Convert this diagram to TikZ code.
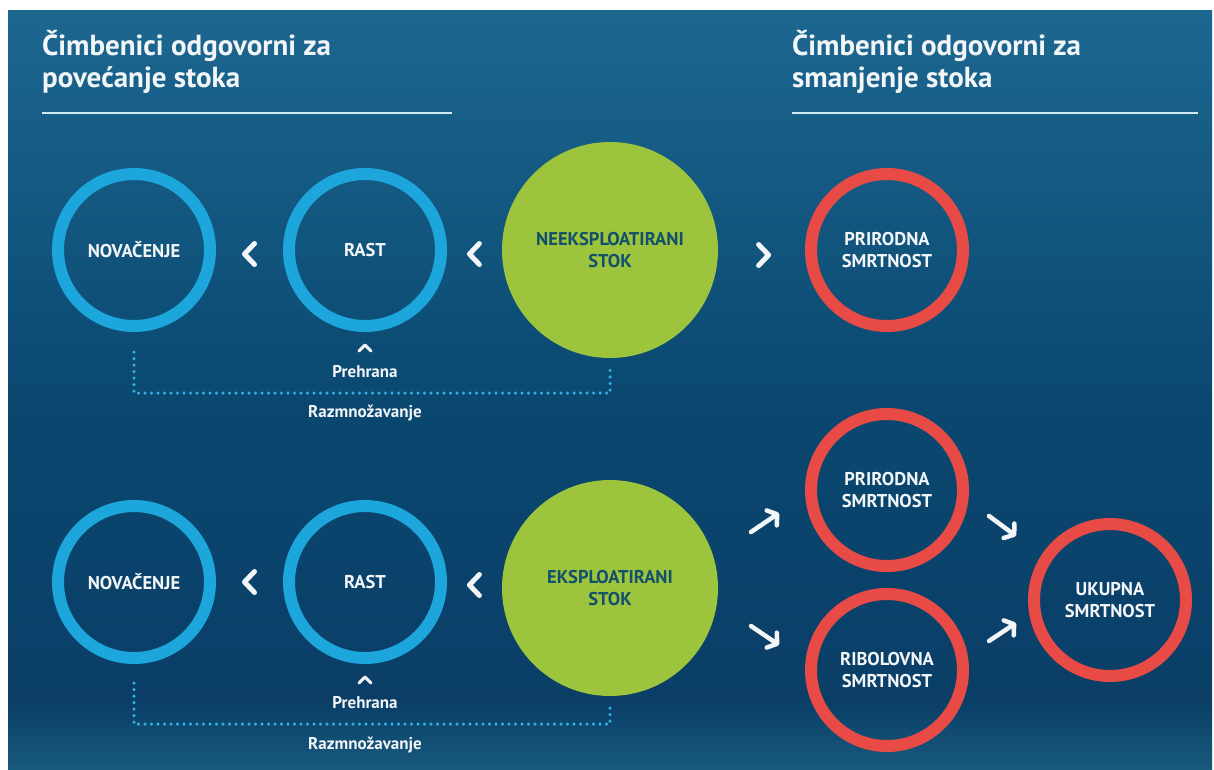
\documentclass[tikz,border=0pt]{standalone}
\usepackage{fontspec}
\setmainfont{PT Sans}
\usetikzlibrary{calc}
\usetikzlibrary{positioning}
\usetikzlibrary{arrows.meta}

\definecolor{bgtop}{HTML}{1C6790}
\definecolor{bgmid}{HTML}{0A4870}
\definecolor{bgdeep}{HTML}{0A3E67}
\definecolor{bgbot}{HTML}{18597E}
\definecolor{ringblue}{HTML}{1DA6DC}
\definecolor{ringred}{HTML}{E84B45}
\definecolor{stockgreen}{HTML}{9CC43C}
\definecolor{stocktext}{HTML}{12506C}
\definecolor{labwhite}{HTML}{F3F6F8}
\definecolor{dotblue}{HTML}{33AEE2}

\tikzset{
  ring/.style={circle, draw=#1, line width=12pt, minimum size=152pt, inner sep=0pt,
    text=labwhite, align=center, font=\bfseries\fontsize{18.5}{22}\selectfont},
  stock/.style={circle, fill=stockgreen, minimum size=216pt, inner sep=0pt,
    text=stocktext, align=center, font=\bfseries\fontsize{18.5}{22}\selectfont},
  title/.style={anchor=base west, inner sep=0pt, text=labwhite,
    font=\bfseries\fontsize{29}{32}\selectfont},
  small/.style={inner sep=0pt, text=labwhite, font=\bfseries\fontsize{17}{18}\selectfont},
  chev/.style={draw=labwhite, line width=5pt, line cap=round, line join=round},
  caret/.style={draw=labwhite, line width=3pt, line cap=round, line join=round},
  warrow/.style={draw=labwhite, line width=4.5pt, line cap=round,
    -{Straight Barb[length=6.5pt, width=18pt, line cap=round, line join=round]}},
  dotline/.style={draw=dotblue, line width=3.5pt, line cap=round, dash pattern=on 0pt off 6.5pt},
  rule/.style={draw=labwhite!85!ringblue, line width=1.5pt}
}

\begin{document}
\begin{tikzpicture}[x=1pt, y=-1pt]
\useasboundingbox (0,0) rectangle (1214,769);

% background
\fill[white] (0,0) rectangle (1214,769);
\shade[top color=bgtop, bottom color=bgmid] (8,10) rectangle (1212,400);
\shade[top color=bgmid, bottom color=bgdeep] (8,400) rectangle (1212,700);
\shade[top color=bgdeep, bottom color=bgbot] (8,700) rectangle (1212,769);

% titles
\node[title] (ttlLa) at (42,55) {Čimbenici odgovorni za};
\node[title] (ttlLb) at (42,87) {povećanje stoka};
\node[title] (ttlRa) at (792,55) {Čimbenici odgovorni za};
\node[title] (ttlRb) at (792,87) {smanjenje stoka};
\draw[rule] (42,113) -- (452,113);
\draw[rule] (792,113) -- (1198,113);

% unexploited stock
\node[ring=ringblue] (nov1) at (134,250) {NOVAČENJE};
\node[ring=ringblue] (rast1) at (365,250) {RAST};
\node[stock] (neks) at (610,250) {NEEKSPLOATIRANI\\STOK};
\node[ring=ringred] (prir1) at (887,250) {PRIRODNA\\SMRTNOST};

\draw[chev] ($(nov1.east)!0.5!(rast1.west)+(0,4)$) ++(5,-10.5) -- ++(-10,10.5) -- ++(10,10.5);
\draw[chev] ($(rast1.east)!0.5!(neks.west)+(0,4)$) ++(5,-10.5) -- ++(-10,10.5) -- ++(10,10.5);
\draw[chev] ($(neks.east)!0.5!(prir1.west)+(2,5)$) ++(-5,-10.5) -- ++(10,10.5) -- ++(-10,10.5);

\node[small] (car1) at (365,348) {};
\draw[caret] (car1) ++(-6,3) -- ++(6,-6) -- ++(6,6);
\node[small] (preh1) at (365,372) {Prehrana};
\node[small] (razm1) at (365,413) {Razmnožavanje};
\draw[dotline] ([yshift=-20pt]nov1.south) -- ++(0,41) -| ([yshift=-10pt]neks.south);

% exploited stock
\node[ring=ringblue] (nov2) at (134,582) {NOVAČENJE};
\node[ring=ringblue] (rast2) at (365,582) {RAST};
\node[stock] (eks) at (610,588) {EKSPLOATIRANI\\STOK};
\node[ring=ringred] (prir2) at (887,490) {PRIRODNA\\SMRTNOST};
\node[ring=ringred] (ribo) at (887,670) {RIBOLOVNA\\SMRTNOST};
\node[ring=ringred] (ukup) at (1110,600) {UKUPNA\\SMRTNOST};

\draw[chev] ($(nov2.east)!0.5!(rast2.west)+(0,0)$) ++(5,-10.5) -- ++(-10,10.5) -- ++(10,10.5);
\draw[chev] ($(rast2.east)!0.5!(eks.west)+(0,0)$) ++(5,-10.5) -- ++(-10,10.5) -- ++(10,10.5);

\node[small] (car2) at (365,680) {};
\draw[caret] (car2) ++(-6,3) -- ++(6,-6) -- ++(6,6);
\node[small] (preh2) at (365,703) {Prehrana};
\node[small] (razm2) at (365,745) {Razmnožavanje};
\draw[dotline] ([yshift=-19pt]nov2.south) -- ++(0,41) -| ([yshift=-8pt]eks.south);

% mortality arrows
\coordinate (a1s) at (751,532);
\coordinate (a1e) at (779,513);
\coordinate (a2s) at (751,626);
\coordinate (a2e) at (779,645);
\coordinate (a3s) at (989,516);
\coordinate (a3e) at (1016,536);
\coordinate (a4s) at (989,641);
\coordinate (a4e) at (1016,623);
\draw[warrow] (a1s) -- (a1e);
\draw[warrow] (a2s) -- (a2e);
\draw[warrow] (a3s) -- (a3e);
\draw[warrow] (a4s) -- (a4e);

\end{tikzpicture}
\end{document}
